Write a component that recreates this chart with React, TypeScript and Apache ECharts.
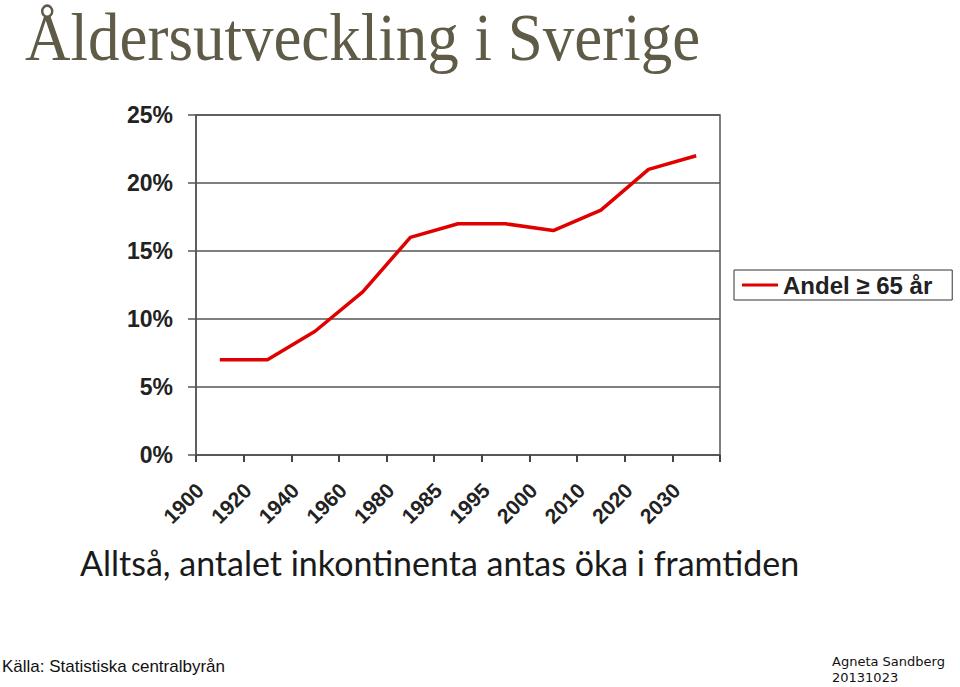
import React, { useEffect, useRef } from "react";
import * as echarts from "echarts";

const years = ["1900", "1920", "1940", "1960", "1980", "1985", "1995", "2000", "2010", "2020", "2030"];
const andel65 = [7, 7, 9.1, 12, 16, 17, 17, 16.5, 18, 21, 22];
const seriesName = "Andel \u2265 65 år";
const titleText = "Åldersutveckling i Sverige";
const subtitleText = "Alltså, antalet inkontinenta antas öka i framtiden";
const sourceText = "Källa: Statistiska centralbyrån";
const authorText = "Agneta Sandberg";
const dateText = "20131023";

export default function App() {
  const ref = useRef<HTMLDivElement>(null);
  useEffect(() => {
    const chart = echarts.init(ref.current!, null, { renderer: "svg" });
    chart.setOption({
      animation: false,
      backgroundColor: "#ffffff",
      grid: {
        left: 196,
        top: 115,
        width: 524,
        height: 340,
        show: true,
        borderColor: "#555555",
        borderWidth: 1.5,
        containLabel: false,
      },
      legend: {
        left: 734,
        top: 270,
        orient: "horizontal",
        icon: "rect",
        itemWidth: 36,
        itemHeight: 3,
        padding: [3, 20, 3, 8],
        borderColor: "#333333",
        borderWidth: 1,
        textStyle: {
          fontFamily: "Liberation Sans, Arial, sans-serif",
          fontWeight: "bold",
          fontSize: 24,
          color: "#222222",
        },
        data: [seriesName],
      },
      xAxis: {
        type: "category",
        data: years,
        boundaryGap: true,
        axisLine: { lineStyle: { color: "#555555", width: 1.5 } },
        axisTick: { show: true, length: 7, inside: false, lineStyle: { color: "#444444", width: 2 } },
        axisLabel: {
          rotate: 45,
          margin: 12,
          interval: 0,
          formatter: "{a|{value}}",
          rich: {
            a: {
              padding: [0, 28, 0, 0],
              fontFamily: "Liberation Sans, Arial, sans-serif",
              fontWeight: "bold",
              fontSize: 21,
              color: "#222222",
            },
          },
          fontFamily: "Liberation Sans, Arial, sans-serif",
          fontWeight: "bold",
          fontSize: 21,
          color: "#222222",
        },
      },
      yAxis: {
        type: "value",
        min: 0,
        max: 25,
        interval: 5,
        axisLine: { show: true, lineStyle: { color: "#555555", width: 1.5 } },
        axisTick: { show: true, length: 8, lineStyle: { color: "#555555", width: 1.5 } },
        splitLine: { show: true, lineStyle: { color: "#555555", width: 1.5 } },
        axisLabel: {
          margin: 23,
          formatter: "{value}%",
          fontFamily: "Liberation Sans, Arial, sans-serif",
          fontWeight: "bold",
          fontSize: 23,
          color: "#222222",
        },
      },
      series: [
        {
          name: seriesName,
          type: "line",
          data: andel65,
          symbol: "none",
          lineStyle: { color: "#e00000", width: 3.5 },
          itemStyle: { color: "#e00000" },
        },
      ],
      graphic: [
        {
          type: "text",
          x: 25,
          y: 3,
          scaleY: 1.08,
          style: {
            text: titleText,
            x: 0,
            y: 0,
            fontFamily: "Liberation Serif, Times New Roman, serif",
            fontSize: 63,
            fill: "#5f5b47",
          },
        },
        {
          type: "text",
          left: 80,
          top: 545,
          style: {
            text: subtitleText,
            fontFamily: "Lato, Open Sans, sans-serif",
            fontSize: 34,
            fill: "#1a1a1a",
          },
        },
        {
          type: "text",
          left: 2,
          top: 658,
          style: {
            text: sourceText,
            fontFamily: "Liberation Sans, Arial, sans-serif",
            fontSize: 17,
            fill: "#111111",
          },
        },
        {
          type: "text",
          left: 832,
          top: 655,
          style: {
            text: authorText,
            fontFamily: "DejaVu Sans, sans-serif",
            fontSize: 13,
            fill: "#111111",
          },
        },
        {
          type: "text",
          left: 832,
          top: 671,
          style: {
            text: dateText,
            fontFamily: "DejaVu Sans, sans-serif",
            fontSize: 13,
            fill: "#111111",
          },
        },
      ],
    });
    return () => chart.dispose();
  }, []);
  return <div ref={ref} style={{ width: 960, height: 687, position: "absolute", left: 0, top: 0 }} />;
}
